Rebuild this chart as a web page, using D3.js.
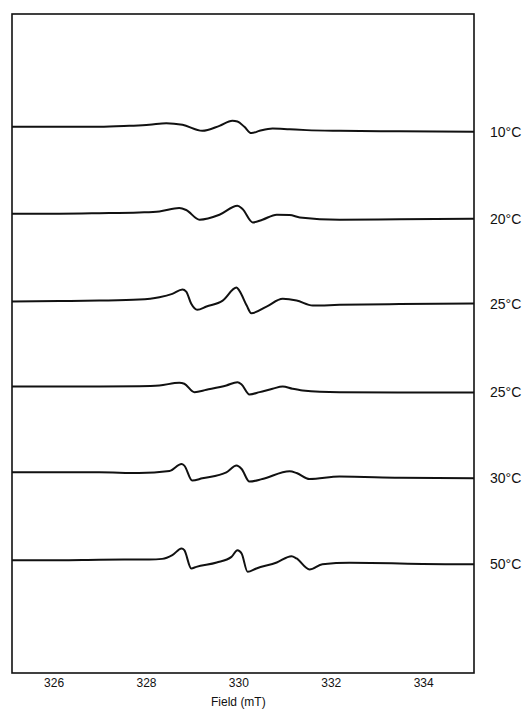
<!DOCTYPE html>
<html lang="en">
  <head>
    <meta charset="utf-8">
    <title>EPR spectra vs temperature</title>
    <script src="https://d3js.org/d3.v7.min.js"></script>
    <style>
      html, body {
        margin: 0;
        padding: 0;
        background: #fff;
        overflow: hidden;
      }
      svg {
        display: block;
      }
      .trace {
        fill: none;
        stroke: #111;
        stroke-width: 2;
        stroke-linejoin: round;
      }
      .lbl {
        font-family: "Liberation Sans", Arial, sans-serif;
        fill: #111;
      }
    </style>
  </head>
  <body>

  <div id="chart"></div>

  <script>

  // temperature labels, top to bottom
  var labels = ["10°C", "20°C", "25°C", "25°C", "30°C", "50°C"];

  // vertical offset of each spectrum baseline (a.u.)
  var offsets = [547, 460, 372, 287, 201, 113];

  // spectra: [field (mT), signal (a.u.)]
  var spec10 = [[325.10, 0], [326.12, 0], [326.99, 0], [327.64, 1], [328.07, 2], [328.44, 3.7],
    [328.79, 2], [329.22, -4], [329.59, 1], [329.87, 6], [329.98, 5.3], [330.13, 0],
    [330.28, -6.3], [330.46, -4], [330.74, -1.7], [331.11, -2.5], [331.48, -3.3],
    [332.19, -4], [333.49, -4.5], [335.10, -5]];
  var spec20 = [[325.10, 0], [326.12, 0], [326.99, 0.5], [327.85, 1.3], [328.29, 2.3], [328.72, 5.7],
    [328.87, 3.7], [329.16, -6], [329.59, -1], [329.98, 8], [330.09, 4.7], [330.31, -8.7],
    [330.52, -6], [330.83, -1], [331.11, -1.3], [331.33, -3.7], [332.19, -6],
    [333.49, -5.5], [335.10, -5]];
  var spec25a = [[325.10, 0], [326.12, 0.5], [326.99, 1], [327.85, 2], [328.29, 4.3], [328.57, 7.7],
    [328.79, 12], [328.87, 10], [328.98, -2.3], [329.11, -8.3], [329.31, -5], [329.66, 1],
    [329.96, 14], [330.02, 11], [330.18, -4], [330.28, -11.7], [330.61, -5], [330.96, 2.7],
    [331.26, 1], [331.61, -4], [332.19, -3.3], [333.49, -2.5], [335.10, -2]];
  var spec25b = [[325.10, 0], [326.12, 0], [326.99, 0], [327.85, 0.3], [328.29, 1], [328.72, 3.7],
    [328.83, 2.7], [329.05, -5.7], [329.31, -3.3], [329.74, 1], [329.98, 4.3], [330.07, 2],
    [330.24, -8], [330.46, -5.7], [330.74, -2.3], [330.96, 0], [331.17, -2.3], [331.39, -4],
    [332.19, -5.7], [333.49, -6], [335.10, -6]];
  var spec30 = [[325.10, 0], [326.12, 0], [326.99, 0], [327.85, -0.7], [328.51, 1.3], [328.77, 8.3],
    [328.83, 6.7], [329.00, -8.3], [329.22, -6], [329.74, 0], [329.96, 6.7], [330.07, 3.3],
    [330.24, -9.3], [330.52, -6.7], [331.11, 1], [331.26, -0.7], [331.54, -6.7],
    [332.19, -4.3], [333.49, -5.5], [335.10, -6]];
  var spec50 = [[325.10, 0], [326.12, 0], [326.99, 0.5], [328.07, 0.7], [328.35, 1.3], [328.57, 5],
    [328.77, 11.7], [328.83, 10], [328.98, -8.3], [329.09, -6.7], [329.53, -2.3], [329.85, 3.3],
    [329.98, 10], [330.07, 6.7], [330.20, -11.7], [330.39, -8.3], [330.83, -2.3], [331.15, 4],
    [331.26, 1.7], [331.54, -9.3], [331.82, -4], [332.41, -2.7], [334.58, -4], [335.10, -4]];

  var spectra = [spec10, spec20, spec25a, spec25b, spec30, spec50];

  var fieldTicks = [326, 328, 330, 332, 334];

  var w = 529;
  var h = 710;
  var margin = {top: 14, right: 55, bottom: 37, left: 12};
  var innerWidth = w - margin.left - margin.right;
  var innerHeight = h - margin.top - margin.bottom;

  var svg = d3.select("#chart")
    .append("svg")
    .attr("width", w)
    .attr("height", h);

  // scales in page coordinates
  var xScale = d3.scaleLinear()
    .domain([325.1, 335.1])
    .range([margin.left, w - margin.right]);

  var yScale = d3.scaleLinear()
    .domain([0, 660])
    .range([h - margin.bottom, margin.top]);

  // frame
  svg.append("rect")
    .attr("x", margin.left)
    .attr("y", margin.top)
    .attr("width", innerWidth)
    .attr("height", innerHeight)
    .attr("fill", "none")
    .attr("stroke", "#111")
    .attr("stroke-width", 1.6);

  var line = d3.line()
    .curve(d3.curveMonotoneX)
    .x(d => xScale(d[0]));

  svg.selectAll(".trace")
    .data(spectra)
    .enter().append("path")
    .attr("class", "trace")
    .attr("d", function (d, i) {
      return line.y(p => yScale(offsets[i] + p[1]))(d);
    });

  // temperature labels at right end of each trace
  svg.selectAll(".temp")
    .data(labels)
    .enter().append("text")
    .attr("class", "lbl temp")
    .attr("x", w - margin.right + 16)
    .attr("y", (d, i) => yScale(offsets[i] + spectra[i][spectra[i].length - 1][1]) + 5)
    .attr("font-size", 14)
    .text(d => d);

  // x axis (labels only)
  var xAxis = d3.axisBottom()
    .scale(xScale)
    .tickValues(fieldTicks)
    .tickSize(0)
    .tickPadding(5)
    .tickFormat(d3.format("d"));

  var ax = svg.append("g")
    .attr("transform", `translate (0, ${h - margin.bottom})`)
    .call(xAxis);
  ax.select(".domain").remove();
  ax.attr("font-family", null).attr("font-size", null);
  ax.selectAll("text")
    .attr("class", "lbl")
    .attr("font-size", 12)
    .attr("fill", null);

  svg.append("text")
    .attr("class", "lbl")
    .attr("x", xScale(330))
    .attr("y", h - 4)
    .attr("text-anchor", "middle")
    .attr("font-size", 12)
    .text("Field (mT)");

  </script>

  </body>
</html>
